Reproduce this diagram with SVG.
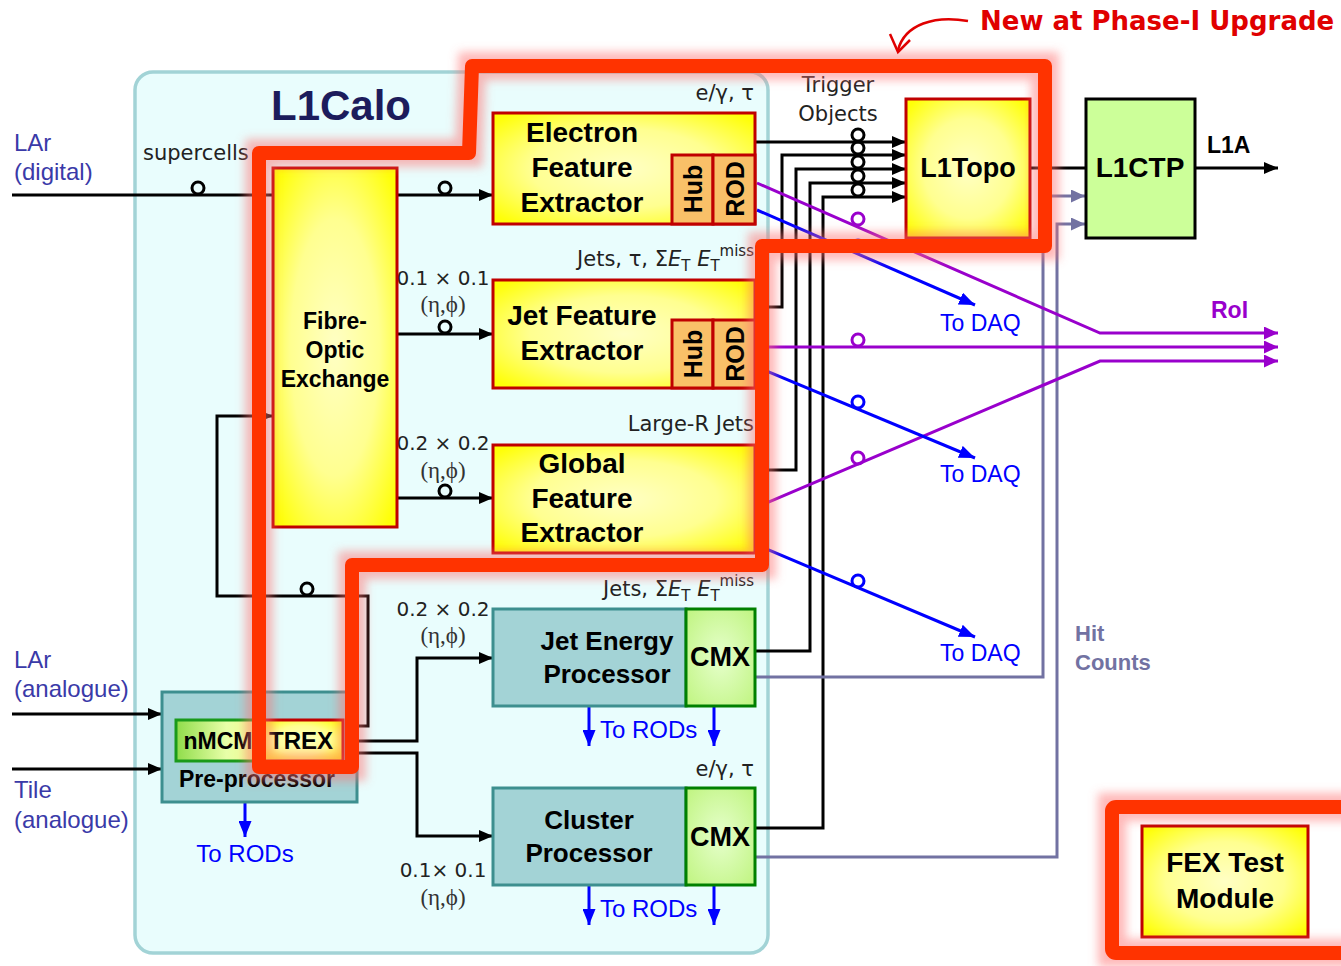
<svg xmlns="http://www.w3.org/2000/svg" width="1341" height="966" viewBox="0 0 1341 966">
<defs>
<radialGradient id="yel" cx="50%" cy="50%" r="65%">
<stop offset="0" stop-color="#ffffc4"/><stop offset="0.55" stop-color="#ffff90"/><stop offset="1" stop-color="#ffff08"/>
</radialGradient>
<radialGradient id="grn" cx="50%" cy="50%" r="65%">
<stop offset="0" stop-color="#e6ffcc"/><stop offset="1" stop-color="#c2f585"/>
</radialGradient>
<linearGradient id="nmcm" x1="0" y1="0" x2="1" y2="0">
<stop offset="0" stop-color="#8fdc4a"/><stop offset="0.6" stop-color="#e8ffa8"/><stop offset="1" stop-color="#f4ff90"/>
</linearGradient>
<filter id="glow" x="-20%" y="-20%" width="140%" height="140%"><feGaussianBlur stdDeviation="5"/></filter>
<marker id="ak" markerUnits="userSpaceOnUse" markerWidth="14" markerHeight="12" refX="14" refY="6" viewBox="0 0 14 12" orient="auto"><path d="M0,0 L14,6 L0,12 z" fill="#000"/></marker>
<marker id="ab" markerUnits="userSpaceOnUse" markerWidth="16" markerHeight="13" refX="16" refY="6.5" viewBox="0 0 16 13" orient="auto"><path d="M0,0 L16,6.5 L0,13 z" fill="#0000ff"/></marker>
<marker id="ap" markerUnits="userSpaceOnUse" markerWidth="14" markerHeight="13" refX="14" refY="6.5" viewBox="0 0 14 13" orient="auto"><path d="M0,0 L14,6.5 L0,13 z" fill="#9900cc"/></marker>
<marker id="ag" markerUnits="userSpaceOnUse" markerWidth="14" markerHeight="13" refX="14" refY="6.5" viewBox="0 0 14 13" orient="auto"><path d="M0,0 L14,6.5 L0,13 z" fill="#7272a2"/></marker>
<style>
.yb{fill:url(#yel);stroke:#c00000;stroke-width:3}
.hub{fill:#f9c068;stroke:#c00000;stroke-width:3}
.tb{fill:#a3d3d6;stroke:#3d8f8f;stroke-width:3}
.cmx{fill:url(#grn);stroke:#008000;stroke-width:3}
.bl{font-family:"Liberation Sans",Arial,sans-serif;font-weight:bold;fill:#000;text-anchor:middle}
.lab{font-family:"DejaVu Sans",sans-serif;font-size:21px;fill:#222}
.ser{font-family:"Liberation Serif","DejaVu Serif",serif;font-size:23px;fill:#333;text-anchor:middle}
.src{font-family:"Liberation Sans",Arial,sans-serif;font-size:24px;fill:#3a3aa8}
.daq{font-family:"Liberation Sans",Arial,sans-serif;font-size:23px;fill:#0000ff}
.k{stroke:#000;stroke-width:3;fill:none}
.b{stroke:#0000ff;stroke-width:3;fill:none}
.p{stroke:#9900cc;stroke-width:3;fill:none}
.g{stroke:#7272a2;stroke-width:3;fill:none}
.ck{fill:none;stroke:#000;stroke-width:3}
.cb{fill:none;stroke:#0000ff;stroke-width:3}
.cp{fill:none;stroke:#9900cc;stroke-width:3}
</style>
</defs>
<rect width="1341" height="966" fill="#fff"/>

<g id="l1calo">
<rect x="135" y="72" width="633" height="881" rx="18" fill="#e9fdfd" stroke="#a2d3d6" stroke-width="3.5"/>
<text x="341" y="120" class="bl" font-size="42" style="fill:#1c1c5c">L1Calo</text>
</g>

<g id="source-labels">
<text x="14" y="151" class="src">LAr</text>
<text x="14" y="180" class="src">(digital)</text>
<text x="14" y="668" class="src">LAr</text>
<text x="14" y="697" class="src">(analogue)</text>
<text x="14" y="798" class="src">Tile</text>
<text x="14" y="828" class="src">(analogue)</text>
<text x="143" y="160" class="lab">supercells</text>
</g>

<g id="connectors">
<line x1="12" y1="195" x2="273" y2="195" class="k"/>
<circle cx="198" cy="188" r="6" class="ck"/>
<line x1="12" y1="714" x2="162" y2="714" class="k" marker-end="url(#ak)"/>
<line x1="12" y1="769" x2="162" y2="769" class="k" marker-end="url(#ak)"/>
<line x1="397" y1="195" x2="493" y2="195" class="k" marker-end="url(#ak)"/>
<circle cx="445" cy="188" r="6" class="ck"/>
<line x1="397" y1="334" x2="493" y2="334" class="k" marker-end="url(#ak)"/>
<circle cx="445" cy="327" r="6" class="ck"/>
<line x1="397" y1="498" x2="493" y2="498" class="k" marker-end="url(#ak)"/>
<circle cx="445" cy="491" r="6" class="ck"/>
<path d="M343,726 H368 V596 H217 V416 H273" class="k" marker-end="url(#ak)"/>
<circle cx="307" cy="589" r="6" class="ck"/>
<path d="M343,741 H417 V658 H493" class="k" marker-end="url(#ak)"/>
<path d="M343,753 H417 V836 H493" class="k" marker-end="url(#ak)"/>
<line x1="245" y1="797" x2="245" y2="837" class="b" marker-end="url(#ab)"/>
<line x1="589" y1="706" x2="589" y2="746" class="b" marker-end="url(#ab)"/>
<line x1="714" y1="706" x2="714" y2="746" class="b" marker-end="url(#ab)"/>
<line x1="589" y1="885" x2="589" y2="925" class="b" marker-end="url(#ab)"/>
<line x1="714" y1="885" x2="714" y2="925" class="b" marker-end="url(#ab)"/>
<line x1="755" y1="142" x2="906" y2="142" class="k" marker-end="url(#ak)"/>
<path d="M755,307 H782 V155 H906" class="k" marker-end="url(#ak)"/>
<path d="M755,470 H796 V169 H906" class="k" marker-end="url(#ak)"/>
<path d="M755,651 H810 V183 H906" class="k" marker-end="url(#ak)"/>
<path d="M755,828 H823 V197 H906" class="k" marker-end="url(#ak)"/>
<circle cx="858" cy="135" r="6" class="ck"/>
<circle cx="858" cy="148" r="6" class="ck"/>
<circle cx="858" cy="162" r="6" class="ck"/>
<circle cx="858" cy="176" r="6" class="ck"/>
<circle cx="858" cy="190" r="6" class="ck"/>
<line x1="1030" y1="168" x2="1086" y2="168" class="k"/>
<line x1="1195" y1="168" x2="1278" y2="168" class="k" marker-end="url(#ak)"/>
<path d="M755,677 H1043 V196 H1085" class="g" marker-end="url(#ag)"/>
<path d="M755,857 H1057 V224 H1085" class="g" marker-end="url(#ag)"/>
<path d="M757,183 L1100,333 H1278" class="p" marker-end="url(#ap)"/>
<line x1="757" y1="347" x2="1278" y2="347" class="p" marker-end="url(#ap)"/>
<path d="M757,507 L1100,361 H1278" class="p" marker-end="url(#ap)"/>
<circle cx="858" cy="219" r="6" class="cp"/>
<circle cx="858" cy="340" r="6" class="cp"/>
<circle cx="858" cy="458" r="6" class="cp"/>
<line x1="757" y1="210" x2="975" y2="305" class="b" marker-end="url(#ab)"/>
<line x1="757" y1="367" x2="975" y2="458" class="b" marker-end="url(#ab)"/>
<line x1="757" y1="545" x2="975" y2="637" class="b" marker-end="url(#ab)"/>
<circle cx="858" cy="246" r="6" class="cb"/>
<circle cx="858" cy="402" r="6" class="cb"/>
<circle cx="858" cy="581" r="6" class="cb"/>
</g>

<g id="edge-labels">
<text x="754" y="100" class="lab" text-anchor="end">e/γ, τ</text>
<text x="754" y="266" class="lab" text-anchor="end">Jets, τ, Σ<tspan font-style="italic">E</tspan><tspan font-size="15" dy="5">T</tspan><tspan dy="-5"> </tspan><tspan font-style="italic">E</tspan><tspan font-size="15" dy="5">T</tspan><tspan font-size="15" dy="-15">miss</tspan></text>
<text x="754" y="431" class="lab" text-anchor="end">Large-R Jets</text>
<text x="754" y="596" class="lab" text-anchor="end">Jets, Σ<tspan font-style="italic">E</tspan><tspan font-size="15" dy="5">T</tspan><tspan dy="-5"> </tspan><tspan font-style="italic">E</tspan><tspan font-size="15" dy="5">T</tspan><tspan font-size="15" dy="-15">miss</tspan></text>
<text x="754" y="776" class="lab" text-anchor="end">e/γ, τ</text>
<text x="443" y="285" class="lab" text-anchor="middle" style="font-size:20px">0.1 × 0.1</text>
<text x="443" y="312" class="ser">(η,ϕ)</text>
<text x="443" y="450" class="lab" text-anchor="middle" style="font-size:20px">0.2 × 0.2</text>
<text x="443" y="478" class="ser">(η,ϕ)</text>
<text x="443" y="616" class="lab" text-anchor="middle" style="font-size:20px">0.2 × 0.2</text>
<text x="443" y="643" class="ser">(η,ϕ)</text>
<text x="443" y="877" class="lab" text-anchor="middle" style="font-size:20px">0.1× 0.1</text>
<text x="443" y="905" class="ser">(η,ϕ)</text>
<text x="838" y="92" class="lab" text-anchor="middle">Trigger</text>
<text x="838" y="121" class="lab" text-anchor="middle">Objects</text>
<text x="940" y="331" class="daq">To DAQ</text>
<text x="940" y="482" class="daq">To DAQ</text>
<text x="940" y="661" class="daq">To DAQ</text>
<text x="245" y="862" class="daq" text-anchor="middle" style="font-size:24px">To RODs</text>
<text x="600" y="738" class="daq" style="font-size:24px">To RODs</text>
<text x="600" y="917" class="daq" style="font-size:24px">To RODs</text>
<text x="1207" y="153" class="bl" font-size="23" style="text-anchor:start">L1A</text>
<text x="1211" y="318" class="bl" font-size="23" style="text-anchor:start;fill:#9900cc">RoI</text>
<text x="1075" y="641" class="bl" font-size="22" style="text-anchor:start;fill:#7272a2">Hit</text>
<text x="1075" y="670" class="bl" font-size="22" style="text-anchor:start;fill:#7272a2">Counts</text>
</g>

<g id="fibre-optic-exchange">
<rect x="273" y="168" width="124" height="359" class="yb"/>
<text x="335" y="329" class="bl" font-size="23">Fibre-</text>
<text x="335" y="358" class="bl" font-size="23">Optic</text>
<text x="335" y="387" class="bl" font-size="23">Exchange</text>
</g>

<g id="efex">
<rect x="493" y="113" width="262" height="111" class="yb"/>
<rect x="672" y="155" width="41" height="69" class="hub"/>
<rect x="713" y="155" width="42" height="69" class="hub"/>
<text x="582" y="142" class="bl" font-size="28">Electron</text>
<text x="582" y="177" class="bl" font-size="28">Feature</text>
<text x="582" y="212" class="bl" font-size="28">Extractor</text>
<text transform="translate(702,189) rotate(-90)" class="bl" font-size="25">Hub</text>
<text transform="translate(744,189) rotate(-90)" class="bl" font-size="25">ROD</text>
</g>

<g id="jfex">
<rect x="493" y="280" width="262" height="108" class="yb"/>
<rect x="672" y="320" width="41" height="68" class="hub"/>
<rect x="713" y="320" width="42" height="68" class="hub"/>
<text x="582" y="325" class="bl" font-size="28">Jet Feature</text>
<text x="582" y="360" class="bl" font-size="28">Extractor</text>
<text transform="translate(702,354) rotate(-90)" class="bl" font-size="25">Hub</text>
<text transform="translate(744,354) rotate(-90)" class="bl" font-size="25">ROD</text>
</g>

<g id="gfex">
<rect x="493" y="445" width="262" height="108" class="yb"/>
<text x="582" y="473" class="bl" font-size="28">Global</text>
<text x="582" y="508" class="bl" font-size="28">Feature</text>
<text x="582" y="542" class="bl" font-size="28">Extractor</text>
</g>

<g id="jep">
<rect x="493" y="609" width="193" height="97" class="tb"/>
<rect x="686" y="609" width="69" height="97" class="cmx"/>
<text x="607" y="650" class="bl" font-size="26">Jet Energy</text>
<text x="607" y="683" class="bl" font-size="26">Processor</text>
<text x="720" y="666" class="bl" font-size="27">CMX</text>
</g>

<g id="cp">
<rect x="493" y="788" width="193" height="97" class="tb"/>
<rect x="686" y="788" width="69" height="97" class="cmx"/>
<text x="589" y="829" class="bl" font-size="26">Cluster</text>
<text x="589" y="862" class="bl" font-size="26">Processor</text>
<text x="720" y="846" class="bl" font-size="27">CMX</text>
</g>

<g id="preprocessor">
<rect x="162" y="692" width="195" height="110" class="tb"/>
<rect x="176" y="720" width="84" height="41" fill="url(#nmcm)" stroke="#1a9a1a" stroke-width="3"/>
<rect x="260" y="720" width="83" height="41" class="yb"/>
<text x="218" y="749" class="bl" font-size="23">nMCM</text>
<text x="301" y="749" class="bl" font-size="24">TREX</text>
<text x="257" y="787" class="bl" font-size="23">Pre-processor</text>
</g>

<g id="l1topo">
<rect x="906" y="99" width="124" height="139" class="yb"/>
<text x="968" y="177" class="bl" font-size="27">L1Topo</text>
</g>

<g id="l1ctp">
<rect x="1086" y="99" width="109" height="139" fill="#ccff99" stroke="#000" stroke-width="3"/>
<text x="1140" y="177" class="bl" font-size="28">L1CTP</text>
</g>

<g id="fex-test-module">
<rect x="1142" y="826" width="166" height="111" class="yb"/>
<text x="1225" y="872" class="bl" font-size="28">FEX Test</text>
<text x="1225" y="908" class="bl" font-size="28">Module</text>
</g>

<g id="phase1-highlight">
<path d="M472,66 H1045 V246 H762 V565 H352 V767 H259 V153 H469 Z" fill="none" stroke="#ff7070" stroke-width="28" stroke-opacity="0.5" filter="url(#glow)"/>
<rect x="1112" y="807" width="260" height="146" fill="none" stroke="#ff7070" stroke-width="28" stroke-opacity="0.5" filter="url(#glow)"/>
<path d="M472,66 H1045 V246 H762 V565 H352 V767 H259 V153 H469 Z" fill="none" stroke="#ff3300" stroke-width="14" stroke-linejoin="round"/>
<rect x="1112" y="807" width="260" height="146" rx="4" fill="none" stroke="#ff3300" stroke-width="14"/>
<path d="M968,21 C935,15 905,24 898,50" fill="none" stroke="#e00000" stroke-width="2.5"/>
<path d="M890,34 L898,52 L910,40" fill="none" stroke="#e00000" stroke-width="2.5"/>
<text x="980" y="30" font-family="DejaVu Sans,sans-serif" font-weight="bold" font-size="26" fill="#e00000">New at Phase-I Upgrade</text>
</g>
</svg>
